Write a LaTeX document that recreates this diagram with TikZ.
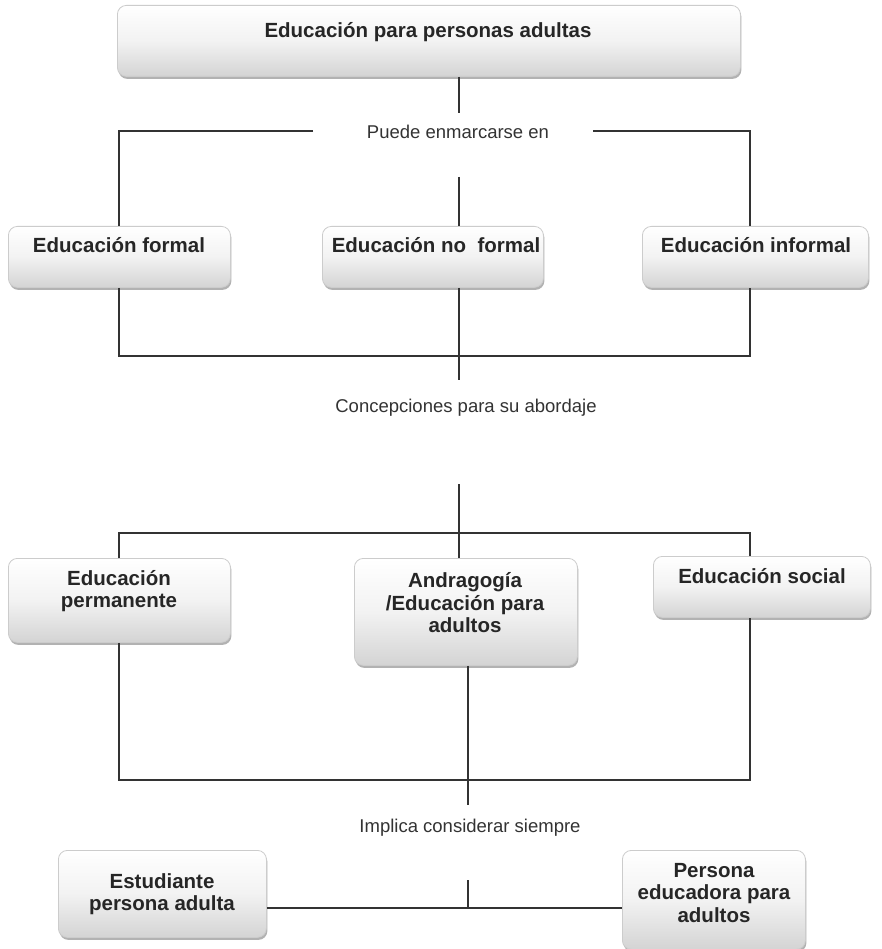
\documentclass[tikz,border=0pt]{standalone}
\usepackage{fontspec}
\setmainfont{Liberation Sans}
\usetikzlibrary{shadows,calc}
\tikzset{
  boxst/.style={draw=black!20, line width=0.8pt, rounded corners=9pt,
    top color=white, bottom color=black!17, middle color=black!5,
    drop shadow={shadow xshift=1pt, shadow yshift=-2.5pt, opacity=0.5, fill=black!60},
    inner sep=0pt},
  btxt/.style={font=\fontsize{20.5}{22.5}\selectfont\bfseries, text=black!85, align=center, inner sep=0pt},
  ltxt/.style={font=\fontsize{18.5}{22}\selectfont, text=black!80, inner sep=0pt},
  conn/.style={draw=black!80, line width=1.3pt},
}
\newcommand{\mybox}[8]{%
  \node[boxst, anchor=north west, minimum width={(#4-#2)*1pt}, minimum height={(#5-#3)*1pt}] (#1) at (#2,#3) {};
  \node[btxt] (#1-t) at (#6,#7) {#8};}
\begin{document}
\begin{tikzpicture}[x=1pt,y=-1pt]
\useasboundingbox[fill=white] (0,0) rectangle (882,949);
% boxes
\mybox{top}{117}{5}{740}{76}{428}{32}{Educación para personas adultas}
\mybox{ef}{8}{226}{230}{287}{119}{245}{Educación formal}
\mybox{enf}{322}{226}{543}{287}{436}{245}{Educación no\ \ formal}
\mybox{ei}{642}{226}{868}{287}{756}{245}{Educación informal}
\mybox{ep}{8}{558}{230}{642}{119}{591}{Educación\\permanente}
\mybox{an}{354}{558}{577}{665}{465}{603}{Andragogía\\/Educación para\\adultos}
\mybox{es}{653}{556}{870}{617}{762}{576}{Educación social}
\mybox{est}{58}{850}{266}{937}{162}{894}{Estudiante\\persona adulta}
\mybox{ped}{622}{850}{805}{949}{714}{893}{Persona\\educadora para\\adultos}
% labels
\node[ltxt] (l1) at (458,132) {Puede enmarcarse en};
\node[ltxt] (l2) at (466,408) {Concepciones para su abordaje};
\node[ltxt] (l3) at (470,828) {Implica considerar siempre};
% coordinates
\coordinate (c1L) at (119,131);
\coordinate (c1R) at (750,131);
\coordinate (c2) at (459,356);
\coordinate (c3) at (459,533);
\coordinate (c4) at (468,780);
% connectors top
\draw[conn] (top.south -| 459,0) -- (459,113);
\draw[conn] (313,131) -- (c1L) -- (ef.north -| c1L);
\draw[conn] (593,131) -- (c1R) -- (ei.north -| c1R);
\draw[conn] (459,177) -- (enf.north -| 459,0);
% row 2 bottom
\draw[conn] (ef.south -| c1L) -- (c1L |- c2) -- (c1R |- c2) -- (ei.south -| c1R);
\draw[conn] (enf.south -| 459,0) -- (459,380);
% row 3
\draw[conn] (459,484) -- (an.north -| 459,0);
\draw[conn] (ep.north -| c1L) -- (c1L |- c3) -- (c1R |- c3) -- (es.north -| c1R);
\draw[conn] (ep.south -| c1L) -- (c1L |- c4) -- (c1R |- c4) -- (es.south -| c1R);
\draw[conn] (an.south -| 468,0) -- (468,805);
% bottom
\draw[conn] (468,880) -- (468,908);
\draw[conn] (est.east |- 0,908) -- (ped.west |- 0,908);
\end{tikzpicture}
\end{document}
